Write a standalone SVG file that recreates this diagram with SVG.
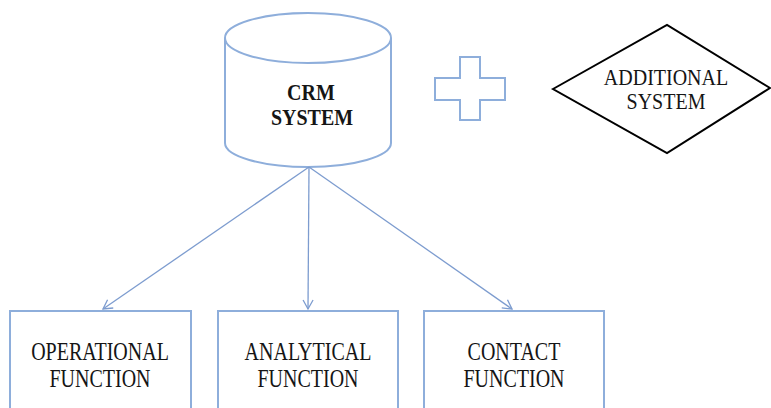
<svg xmlns="http://www.w3.org/2000/svg" width="771" height="408" viewBox="0 0 771 408">
  <defs>
    <marker id="arrow" markerWidth="12" markerHeight="12" refX="10" refY="6" orient="auto" markerUnits="userSpaceOnUse">
      <path d="M1,1 L10,6 L1,11" fill="none" stroke="#7d9ccf" stroke-width="1.3"/>
    </marker>
  </defs>
  <style>
    .shape { fill: #ffffff; stroke: #8eaedb; stroke-width: 2; }
    .diamond { fill: #ffffff; stroke: #000000; stroke-width: 2; }
    .link { fill: none; stroke: #7d9ccf; stroke-width: 1.3; marker-end: url(#arrow); }
    .label { font-family: "Liberation Serif", "Times New Roman", serif; font-size: 20px; fill: #151515; text-anchor: middle; }
    .bold { font-weight: bold; }
  </style>
  <rect width="771" height="408" fill="#ffffff"/>

  <!-- database cylinder -->
  <g id="crm-system">
    <path class="shape" d="M225,38 L225,143 A83,24 0 0 0 391,143 L391,38"/>
    <ellipse class="shape" cx="308" cy="38" rx="83" ry="25"/>
    <text class="label bold" transform="translate(311,100) scale(1,1.15)">CRM</text>
    <text class="label bold" transform="translate(312,125) scale(1,1.15)">SYSTEM</text>
  </g>

  <!-- plus sign -->
  <g id="plus">
    <path class="shape" d="M460,57 H480 V78 H505 V100 H480 V120 H460 V100 H435 V78 H460 Z"/>
  </g>

  <g id="additional-system">
    <polygon class="diamond" points="553,89 667,25 770,88 667,153"/>
    <text class="label" transform="translate(666,85) scale(1,1.15)">ADDITIONAL</text>
    <text class="label" transform="translate(666,109) scale(1,1.15)">SYSTEM</text>
  </g>

  <g id="operational-function">
    <rect class="shape" x="10" y="311" width="181" height="110"/>
    <text class="label" transform="translate(100,360) scale(1,1.22)">OPERATIONAL</text>
    <text class="label" transform="translate(100,387) scale(1,1.22)">FUNCTION</text>
  </g>

  <g id="analytical-function">
    <rect class="shape" x="218" y="311" width="180" height="110"/>
    <text class="label" transform="translate(308,360) scale(1,1.22)">ANALYTICAL</text>
    <text class="label" transform="translate(308,387) scale(1,1.22)">FUNCTION</text>
  </g>

  <g id="contact-function">
    <rect class="shape" x="424" y="311" width="180" height="110"/>
    <text class="label" transform="translate(514,360) scale(1,1.22)">CONTACT</text>
    <text class="label" transform="translate(514,387) scale(1,1.22)">FUNCTION</text>
  </g>

  <g id="connectors">
    <line class="link" x1="309" y1="167" x2="103" y2="309"/>
    <line class="link" x1="309" y1="167" x2="308" y2="309"/>
    <line class="link" x1="309" y1="167" x2="512" y2="309"/>
  </g>
</svg>
